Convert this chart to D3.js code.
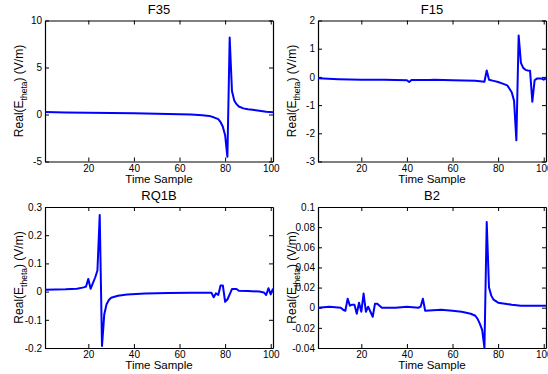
<!DOCTYPE html>
<html>
<head>
<meta charset="utf-8">
<script src="https://cdn.jsdelivr.net/npm/d3@7"></script>
<style>
body { margin: 0; background: #fff; }
text { font-family: "Liberation Sans", Arial, sans-serif; fill: #000; }
</style>
</head>
<body>
<svg id="chart" width="548" height="374"></svg>
<script>
// values
var titles = ["F35", "F15", "RQ1B", "B2"];

var xF35 = [1, 10, 20, 30, 40, 50, 60, 65, 70, 73, 75, 77, 78, 79, 80, 81, 82, 83, 84, 85, 86, 88, 90, 92, 95, 98, 101];
var yF35 = [0.26, 0.22, 0.18, 0.15, 0.12, 0.08, 0.03, 0, -0.08, -0.15, -0.3, -0.5, -0.8, -1.3, -2.2, -4.5, 8.2, 2.5, 1.5, 1.1, 0.85, 0.65, 0.55, 0.5, 0.4, 0.3, 0.25];

var xF15 = [1, 10, 20, 30, 40, 41, 42, 50, 52, 60, 70, 74, 75, 76, 78, 80, 82, 84, 85, 86, 87, 88, 89, 90, 91, 92, 93, 94, 95, 96, 97, 99, 100, 101];
var yF15 = [-0.05, -0.08, -0.1, -0.1, -0.12, -0.18, -0.11, -0.11, -0.1, -0.12, -0.14, -0.17, 0.23, -0.1, -0.14, -0.18, -0.24, -0.3, -0.42, -0.55, -0.85, -2.25, 1.47, 0.5, 0.32, 0.25, 0.23, 0.22, -0.88, -0.12, -0.06, -0.06, -0.1, -0.05];

var xRQ1B = [1, 10, 15, 18, 19, 20, 21, 22, 23, 24, 25, 26, 27, 28, 29, 30, 33, 37, 45, 55, 65, 74, 75, 76, 77, 78, 79, 80, 81, 82, 83, 85, 86, 90, 95, 97, 98, 99, 100, 101];
var yRQ1B = [0.007, 0.008, 0.01, 0.015, 0.018, 0.045, 0.01, 0.03, 0.05, 0.075, 0.272, -0.193, -0.08, -0.045, -0.03, -0.022, -0.015, -0.01, -0.007, -0.005, -0.004, -0.004, -0.02, -0.006, -0.012, 0.022, 0.022, -0.036, -0.028, -0.01, 0.009, 0.009, 0.003, 0.002, 0, -0.003, -0.012, 0.012, -0.01, 0.011];

var xB2 = [1, 6, 11, 12, 13, 14, 15, 16, 17, 18, 19, 20, 21, 22, 23, 24, 25, 26, 27, 28, 29, 35, 40, 45, 46, 47, 48, 55, 60, 64, 68, 70, 71, 72, 73, 74, 75, 76, 77, 78, 80, 83, 86, 90, 95, 100, 101];
var yB2 = [0, 0.001, 0, -0.002, -0.003, 0.009, 0.002, 0.003, 0.003, -0.006, 0.005, -0.004, 0.014, -0.004, 0.001, -0.004, -0.009, 0.004, 0.004, 0.002, 0, 0, 0.001, 0, 0.001, 0.009, -0.003, -0.002, -0.003, -0.004, -0.006, -0.008, -0.011, -0.016, -0.022, -0.04, 0.085, 0.02, 0.012, 0.008, 0.005, 0.004, 0.003, 0.002, 0.002, 0.002, 0.002];

var xTicks = [20, 40, 60, 80, 100];
var yTicksF35 = [-5, 0, 5, 10];
var yTicksF15 = [-3, -2, -1, 0, 1, 2];
var yTicksRQ1B = [-0.2, -0.1, 0, 0.1, 0.2, 0.3];
var yTicksB2 = [-0.04, -0.02, 0, 0.02, 0.04, 0.06, 0.08, 0.1];

// matlab-like labels: 0, 0.1, -0.02 ...
function shortNum(d) { return String(+d.toFixed(4)); }

var panels = [
  { title: titles[0], xs: xF35, ys: yF35, yt: yTicksF35, left: 45, top: 20.5 },
  { title: titles[1], xs: xF15, ys: yF15, yt: yTicksF15, left: 318, top: 20.5 },
  { title: titles[2], xs: xRQ1B, ys: yRQ1B, yt: yTicksRQ1B, left: 45, top: 207 },
  { title: titles[3], xs: xB2, ys: yB2, yt: yTicksB2, left: 318, top: 207 }
];

var pw = 228, ph = 141;
var svg = d3.select("#chart");

panels.forEach(function(p) {
  var g = svg.append("g").attr("transform", "translate(" + p.left + "," + p.top + ")");
  var x = d3.scaleLinear().domain([1, 101]).range([0, pw]);
  var y = d3.scaleLinear().domain([p.yt[0], p.yt[p.yt.length - 1]]).range([ph, 0]);

  // inward ticks, box on all four sides
  g.append("g").attr("transform", "translate(0," + ph + ")")
    .call(d3.axisBottom(x).tickValues(xTicks).tickSizeInner(-4).tickSizeOuter(0).tickPadding(3));
  g.append("g")
    .call(d3.axisTop(x).tickValues(xTicks).tickSizeInner(-4).tickSizeOuter(0).tickFormat(""));
  g.append("g")
    .call(d3.axisLeft(y).tickValues(p.yt).tickSizeInner(-4).tickSizeOuter(0).tickPadding(3).tickFormat(shortNum));
  g.append("g").attr("transform", "translate(" + pw + ",0)")
    .call(d3.axisRight(y).tickValues(p.yt).tickSizeInner(-4).tickSizeOuter(0).tickFormat(""));

  g.selectAll(".domain").attr("stroke", "#000").attr("stroke-width", 1.2);
  g.selectAll(".tick line").attr("stroke", "#000");
  g.selectAll(".tick text").style("font-size", "10px").attr("fill", "#000");

  var line = d3.line().x(function(d) { return x(d[0]); }).y(function(d) { return y(d[1]); });
  g.append("path")
    .datum(d3.zip(p.xs, p.ys))
    .attr("d", line)
    .attr("fill", "none")
    .attr("stroke", "#0000ff")
    .attr("stroke-width", 2)
    .attr("stroke-linejoin", "round");

  g.append("text").attr("x", pw / 2).attr("y", -7).attr("text-anchor", "middle")
    .style("font-size", "13px").text(p.title);

  g.append("text").attr("x", pw / 2).attr("y", ph + 21).attr("text-anchor", "middle")
    .style("font-size", "11.5px").text("Time Sample");

  var lab = g.append("text")
    .attr("transform", "translate(-22," + (ph / 2) + ") rotate(-90)")
    .attr("text-anchor", "middle")
    .style("font-size", "12px");
  lab.append("tspan").text("Real(E");
  lab.append("tspan").attr("dy", 4).style("font-size", "8.5px").text("theta");
  lab.append("tspan").attr("dy", -4).text(") (V/m)");
});
</script>
</body>
</html>
